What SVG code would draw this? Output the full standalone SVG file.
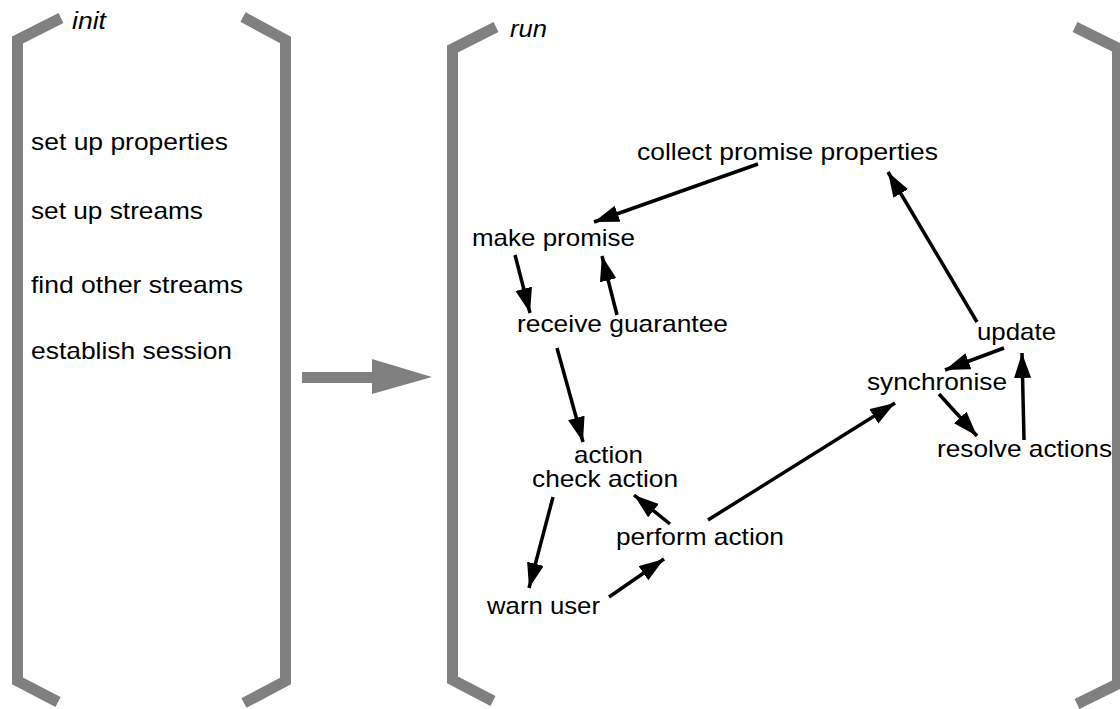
<svg xmlns="http://www.w3.org/2000/svg" width="1120" height="709" viewBox="0 0 1120 709">
<style>
.br{fill:none;stroke:#808080;stroke-width:11;stroke-linejoin:miter}
.t{font-family:"Liberation Sans",Arial,sans-serif;font-size:24px;fill:#000}
.i{font-style:italic}
.c{stroke:#000;stroke-width:3.5;fill:none;marker-end:url(#ah)}
</style>
<defs>
<marker id="ah" markerUnits="userSpaceOnUse" markerWidth="28" markerHeight="18" refX="25" refY="8.5" orient="auto">
<path d="M0,0 L25,8.5 L0,17 z" fill="#000"/>
</marker>
</defs>
<rect width="1120" height="709" fill="#fff"/>
<g id="init">
<path class="br" d="M61,18 L17.5,40 L17.5,681 L58,702"/>
<path class="br" d="M243,17 L285.5,40 L285.5,681 L244,703"/>
<text class="t i" x="72" y="29" textLength="34" lengthAdjust="spacingAndGlyphs">init</text>
<text class="t" x="31" y="150" textLength="197" lengthAdjust="spacingAndGlyphs">set up properties</text>
<text class="t" x="31" y="219" textLength="172" lengthAdjust="spacingAndGlyphs">set up streams</text>
<text class="t" x="31" y="293" textLength="212" lengthAdjust="spacingAndGlyphs">find other streams</text>
<text class="t" x="31" y="359" textLength="201" lengthAdjust="spacingAndGlyphs">establish session</text>
</g>
<g id="transition">
<path d="M302,372 L372,372 L372,359 L432,377 L372,394 L372,383 L302,383 z" fill="#808080"/>
</g>
<g id="run">
<path class="br" d="M496,27 L452.5,49 L452.5,680 L493,701"/>
<path class="br" d="M1075,27 L1117.5,48 L1117.5,684 L1077,704"/>
<text class="t i" x="510" y="37" textLength="37" lengthAdjust="spacingAndGlyphs">run</text>
</g>
<g id="collect"><text class="t" x="637" y="160" textLength="301" lengthAdjust="spacingAndGlyphs">collect promise properties</text></g>
<g id="make"><text class="t" x="472" y="246" textLength="163" lengthAdjust="spacingAndGlyphs">make promise</text></g>
<g id="receive"><text class="t" x="517" y="332" textLength="211" lengthAdjust="spacingAndGlyphs">receive guarantee</text></g>
<g id="action"><text class="t" x="574" y="463" textLength="69" lengthAdjust="spacingAndGlyphs">action</text>
<text class="t" x="532" y="487" textLength="146" lengthAdjust="spacingAndGlyphs">check action</text></g>
<g id="perform"><text class="t" x="616" y="545" textLength="168" lengthAdjust="spacingAndGlyphs">perform action</text></g>
<g id="warn"><text class="t" x="487" y="614" textLength="113" lengthAdjust="spacingAndGlyphs">warn user</text></g>
<g id="update"><text class="t" x="977" y="340" textLength="79" lengthAdjust="spacingAndGlyphs">update</text></g>
<g id="synchronise"><text class="t" x="867" y="390" textLength="140" lengthAdjust="spacingAndGlyphs">synchronise</text></g>
<g id="resolve"><text class="t" x="937" y="457" textLength="175" lengthAdjust="spacingAndGlyphs">resolve actions</text></g>
<g id="connectors">
<line class="c" x1="758" y1="164" x2="594" y2="222"/>
<line class="c" x1="515" y1="255" x2="530" y2="313"/>
<line class="c" x1="617" y1="315" x2="602" y2="256"/>
<line class="c" x1="557" y1="348" x2="583" y2="442"/>
<line class="c" x1="553" y1="497" x2="529" y2="588"/>
<line class="c" x1="609" y1="597" x2="664" y2="559"/>
<line class="c" x1="670" y1="524" x2="634" y2="495"/>
<line class="c" x1="708" y1="520" x2="895" y2="403"/>
<line class="c" x1="1004" y1="348" x2="945" y2="370"/>
<line class="c" x1="939" y1="394" x2="977" y2="436"/>
<line class="c" x1="1024" y1="440" x2="1022" y2="353"/>
<line class="c" x1="977" y1="322" x2="888" y2="172"/>
</g>
</svg>
